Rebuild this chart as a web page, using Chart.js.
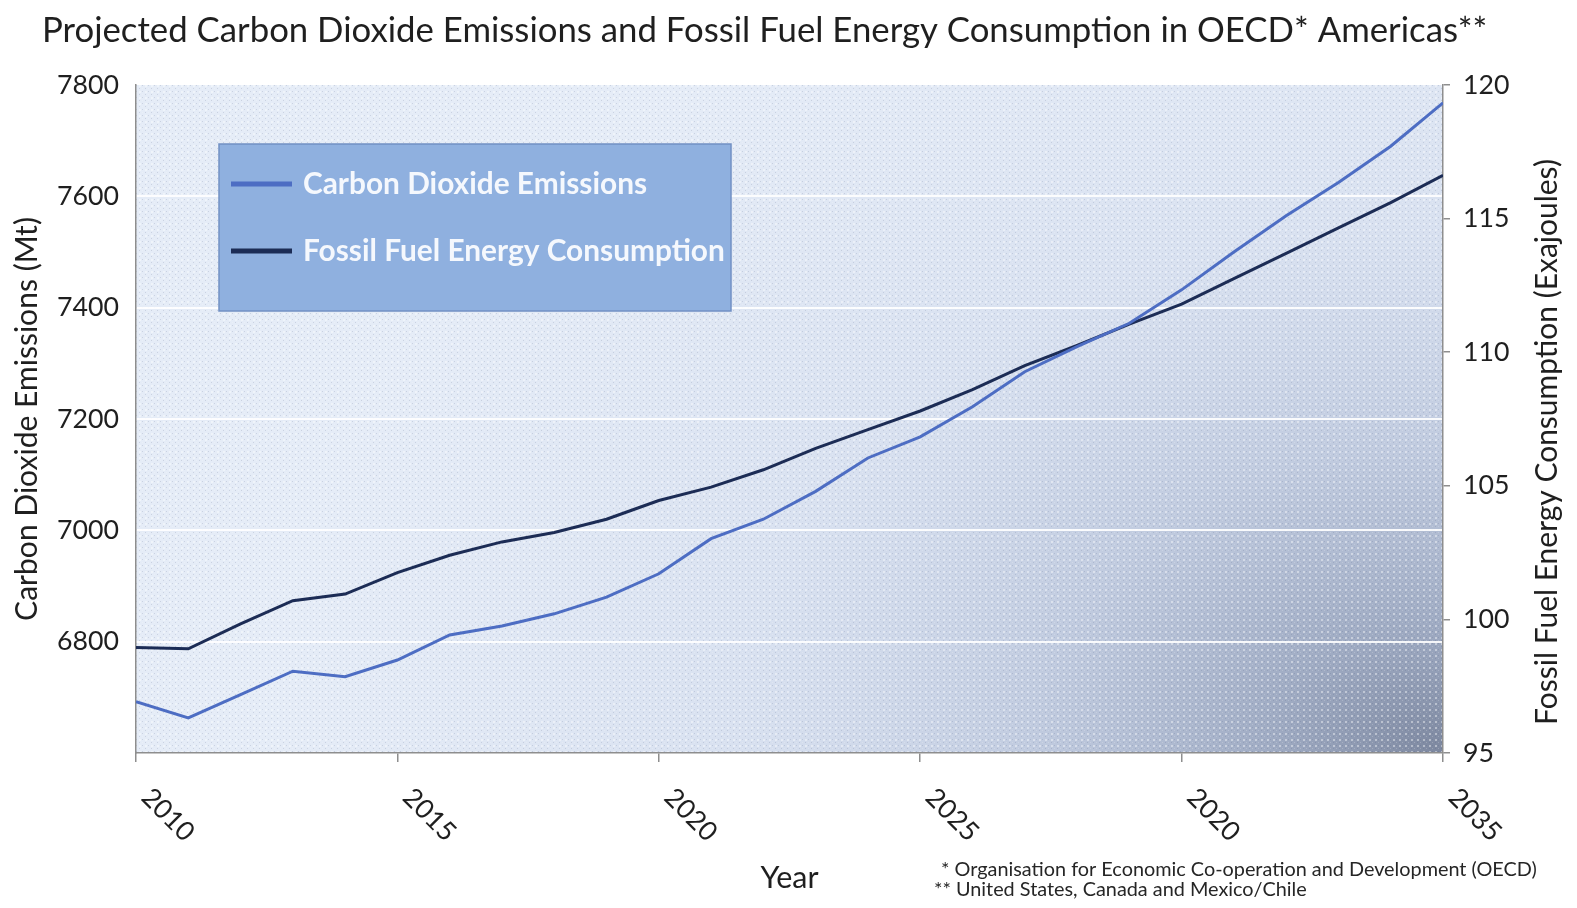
<!DOCTYPE html>
<html>
<head>
<meta charset="utf-8">
<title>Projected Carbon Dioxide Emissions and Fossil Fuel Energy Consumption in OECD Americas</title>
<script src="https://cdn.jsdelivr.net/npm/chart.js@4.4.1/dist/chart.umd.min.js"></script>
<style>
  html, body { margin: 0; padding: 0; background: #ffffff; }
  #wrap { width: 1577px; height: 908px; position: relative; }
  canvas { display: block; }
</style>
</head>
<body>
<div id="wrap"><canvas id="chart" width="1577" height="908"></canvas></div>
<script>
// ---- data ----
const years = [2010, 2011, 2012, 2013, 2014, 2015, 2016, 2017, 2018, 2019, 2020, 2021, 2022,
               2023, 2024, 2025, 2026, 2027, 2028, 2029, 2030, 2031, 2032, 2033, 2034, 2035];

// Carbon dioxide emissions, Mt (left axis)
const co2Emissions = [6692, 6663, 6705, 6747, 6737, 6767, 6812, 6828, 6850, 6880, 6922, 6985, 7020,
                      7070, 7130, 7168, 7222, 7285, 7330, 7372, 7432, 7500, 7565, 7625, 7690, 7768];

// Fossil fuel energy consumption, exajoules (right axis)
const fossilEnergy = [98.95, 98.9, 99.83, 100.7, 100.95, 101.75, 102.4, 102.9, 103.25, 103.75, 104.45,
                      104.95, 105.6, 106.4, 107.1, 107.8, 108.6, 109.5, 110.25, 111.05, 111.8, 112.75,
                      113.7, 114.65, 115.6, 116.62];

const xTickValues = [2010, 2015, 2020, 2025, 2030, 2035];
const xTickLabels = ['2010', '2015', '2020', '2025', '2020', '2035'];

const seriesNames = ['Carbon Dioxide Emissions', 'Fossil Fuel Energy Consumption'];
const titleText = 'Projected Carbon Dioxide Emissions and Fossil Fuel Energy Consumption in OECD* Americas**';
const rightAxisTitle = 'Fossil Fuel Energy Consumption (Exajoules)';
const footnotes = [
  '* Organisation for Economic Co-operation and Development (OECD)',
  '** United States, Canada and Mexico/Chile'
];

// ---- styling ----
const FONT = 'Lato, "Open Sans", "DejaVu Sans", sans-serif';
const AXIS_GREY = '#8e8e8e';
const TEXT_DARK = '#1f1f1f';
const CO2_COLOR = '#4d6dc3';
const ENERGY_COLOR = '#1c2c55';

const measureCtx = document.createElement('canvas').getContext('2d');
function fitSize(text, width, weight) {
  measureCtx.font = (weight || 'normal') + ' 100px ' + FONT;
  return 100 * width / measureCtx.measureText(text).width;
}

const tickFontSize = fitSize('7800', 62);
const leftTitleSize = fitSize('Carbon Dioxide Emissions (Mt)', 404);
const rightTitleSize = fitSize(rightAxisTitle, 566);
const yearTitleSize = fitSize('Year', 58);

// dotted texture used for the plot background
function makeDotPattern(ctx) {
  const c = document.createElement('canvas');
  c.width = 6; c.height = 6;
  const g = c.getContext('2d');
  g.fillStyle = 'rgba(255,255,255,0.9)';
  g.fillRect(1, 1, 2, 2);
  g.fillStyle = 'rgba(255,255,255,0.45)';
  g.fillRect(4, 4, 1, 1);
  g.fillStyle = 'rgba(60,75,110,0.35)';
  g.fillRect(4, 1, 1, 1);
  g.fillRect(1, 4, 1, 1);
  return ctx.createPattern(c, 'repeat');
}

const plotBackground = {
  id: 'plotBackground',
  beforeDraw(chart) {
    const { ctx, chartArea: a } = chart;
    ctx.save();
    ctx.beginPath();
    ctx.rect(a.left, a.top, a.width, a.height);
    ctx.clip();
    ctx.fillStyle = '#e5ecf7';
    ctx.fillRect(a.left, a.top, a.width, a.height);

    // shading toward the lower right corner
    ctx.save();
    ctx.translate(a.right, a.bottom);
    ctx.scale(1, 0.75);
    const rad = ctx.createRadialGradient(0, 0, 0, 0, 0, a.width * 0.9);
    rad.addColorStop(0, 'rgba(55,68,100,0.6)');
    rad.addColorStop(0.15, 'rgba(72,90,130,0.44)');
    rad.addColorStop(0.35, 'rgba(95,115,160,0.27)');
    rad.addColorStop(0.6, 'rgba(125,145,190,0.12)');
    rad.addColorStop(1, 'rgba(140,160,200,0)');
    ctx.fillStyle = rad;
    ctx.fillRect(-a.width - 10, -a.height / 0.75 - 10, a.width + 20, a.height / 0.75 + 20);
    ctx.restore();

    ctx.globalAlpha = 0.45;
    ctx.fillStyle = makeDotPattern(ctx);
    ctx.fillRect(a.left, a.top, a.width, a.height);
    ctx.restore();
  }
};

const annotations = {
  id: 'annotations',
  afterDraw(chart) {
    const { ctx, chartArea: a } = chart;
    const xScale = chart.scales.x;
    ctx.save();

    // title
    const tSize = fitSize(titleText, 1446);
    ctx.font = tSize + 'px ' + FONT;
    ctx.fillStyle = TEXT_DARK;
    ctx.textAlign = 'left';
    ctx.textBaseline = 'middle';
    ctx.fillText(titleText, 42, 31);

    // right axis title, reading upward
    ctx.save();
    ctx.translate(1547, (a.top + a.bottom) / 2 + 23);
    ctx.rotate(-Math.PI / 2);
    ctx.font = rightTitleSize + 'px ' + FONT;
    ctx.textAlign = 'center';
    ctx.textBaseline = 'middle';
    ctx.fillText(rightAxisTitle, 0, 0);
    ctx.restore();

    // year labels, slanted downward to the right
    ctx.font = tickFontSize + 'px ' + FONT;
    ctx.fillStyle = TEXT_DARK;
    xTickValues.forEach((v, i) => {
      const px = xScale.getPixelForValue(v);
      ctx.save();
      ctx.translate(px + 10, a.bottom + 40);
      ctx.rotate(Math.PI / 4);
      ctx.textAlign = 'left';
      ctx.textBaseline = 'middle';
      ctx.fillText(xTickLabels[i], 0, 0);
      ctx.restore();
    });

    // legend box
    const box = { x: 219, y: 144, w: 512, h: 167 };
    ctx.fillStyle = '#8fb0df';
    ctx.fillRect(box.x, box.y, box.w, box.h);
    ctx.strokeStyle = '#7290c4';
    ctx.lineWidth = 1.5;
    ctx.strokeRect(box.x, box.y, box.w, box.h);
    const legendSize = fitSize(seriesNames[1], 422, 'bold');
    ctx.font = 'bold ' + legendSize + 'px ' + FONT;
    const rows = [184, 251];
    chart.data.datasets.forEach((ds, i) => {
      const y = rows[i];
      ctx.strokeStyle = ds.borderColor;
      ctx.lineWidth = 5;
      ctx.beginPath();
      ctx.moveTo(231, y);
      ctx.lineTo(292, y);
      ctx.stroke();
      ctx.fillStyle = '#f5f8fd';
      ctx.textAlign = 'left';
      ctx.textBaseline = 'middle';
      ctx.fillText(ds.label, 303, y);
    });

    // footnotes
    const fSize = fitSize(footnotes[0], 596);
    ctx.font = fSize + 'px ' + FONT;
    ctx.fillStyle = '#262626';
    ctx.textBaseline = 'middle';
    ctx.fillText(footnotes[0], 941, 870);
    ctx.fillText(footnotes[1], 934, 890);

    ctx.restore();
  }
};

const ctx = document.getElementById('chart').getContext('2d');
new Chart(ctx, {
  type: 'line',
  data: {
    datasets: [
      {
        label: seriesNames[0],
        data: years.map((yr, i) => ({ x: yr, y: co2Emissions[i] })),
        yAxisID: 'y',
        borderColor: CO2_COLOR,
        borderWidth: 3,
        pointRadius: 0,
        tension: 0
      },
      {
        label: seriesNames[1],
        data: years.map((yr, i) => ({ x: yr, y: fossilEnergy[i] })),
        yAxisID: 'y1',
        borderColor: ENERGY_COLOR,
        borderWidth: 3,
        pointRadius: 0,
        tension: 0
      }
    ]
  },
  options: {
    responsive: false,
    animation: false,
    devicePixelRatio: 1,
    layout: { padding: { left: 6, right: 12, top: 85, bottom: 0 } },
    plugins: {
      legend: { display: false },
      title: { display: false },
      tooltip: { enabled: false }
    },
    scales: {
      x: {
        type: 'linear',
        min: 2010,
        max: 2035,
        ticks: { display: false, stepSize: 5 },
        grid: { display: true, drawOnChartArea: false, drawTicks: true, tickLength: 9, color: AXIS_GREY, lineWidth: 1.5 },
        border: { display: true, color: AXIS_GREY, width: 1.5 },
        title: {
          display: true,
          text: 'Year',
          color: TEXT_DARK,
          font: { family: FONT, size: yearTitleSize },
          padding: { top: 0, bottom: 12 }
        },
        afterFit(scale) { scale.height = 155; }
      },
      y: {
        type: 'linear',
        position: 'left',
        min: 6600,
        max: 7800,
        ticks: {
          stepSize: 200,
          padding: 17,
          color: TEXT_DARK,
          font: { family: FONT, size: tickFontSize },
          callback: (v) => (v === 6600 ? '' : String(v))
        },
        grid: {
          drawTicks: false,
          lineWidth: 2,
          color: (c) => (c.tick && (c.tick.value === 6600 || c.tick.value === 7800)) ? 'rgba(0,0,0,0)' : 'rgba(255,255,255,0.9)'
        },
        border: { display: true, color: AXIS_GREY, width: 1.5 },
        title: {
          display: true,
          text: 'Carbon Dioxide Emissions (Mt)',
          color: TEXT_DARK,
          font: { family: FONT, size: leftTitleSize },
          padding: { top: 3, bottom: 0 }
        },
        afterFit(scale) { scale.width = 130; }
      },
      y1: {
        type: 'linear',
        position: 'right',
        min: 95,
        max: 120,
        ticks: {
          stepSize: 5,
          padding: 13,
          color: TEXT_DARK,
          font: { family: FONT, size: tickFontSize }
        },
        grid: { drawOnChartArea: false, drawTicks: true, tickLength: 7, color: AXIS_GREY, lineWidth: 1.5 },
        border: { display: true, color: AXIS_GREY, width: 1.5 },
        title: { display: false },
        afterFit(scale) { scale.width = 122; }
      }
    }
  },
  plugins: [plotBackground, annotations]
});
</script>
</body>
</html>
